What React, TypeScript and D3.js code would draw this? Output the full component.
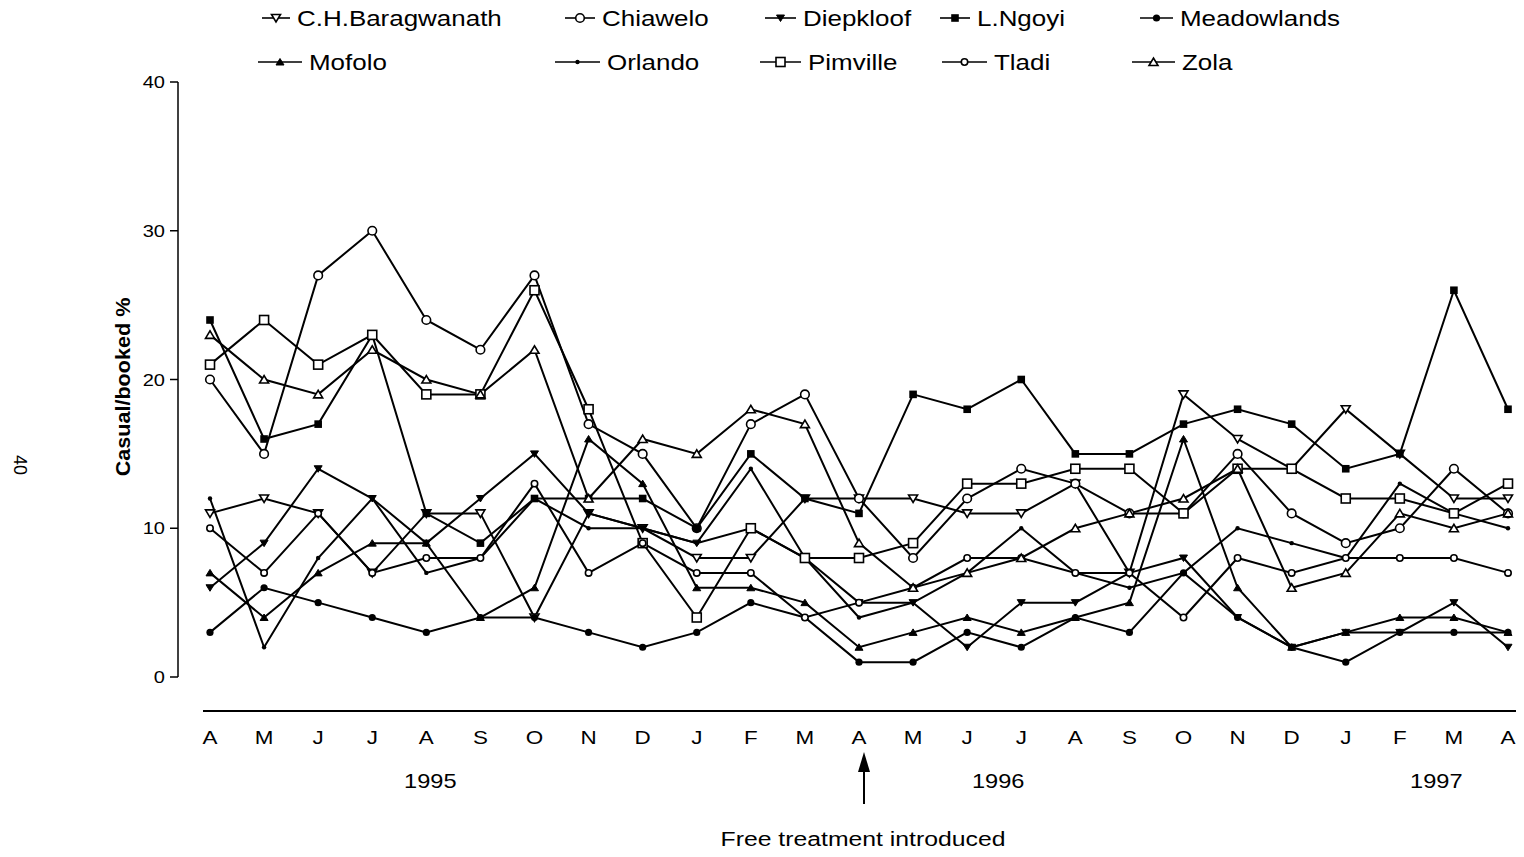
import React from "react";
import * as d3 from "d3";

// month ticks, April 1995 .. April 1997
const months = ["A", "M", "J", "J", "A", "S", "O", "N", "D", "J", "F", "M", "A", "M", "J", "J", "A", "S", "O", "N", "D", "J", "F", "M", "A"];
const yTicks = [0, 10, 20, 30, 40];
const years = [
  { label: "1995", at: 4 },
  { label: "1996", at: 14.5 },
  { label: "1997", at: 22.6 },
];

// casual / booked % per clinic
const baragwanath = [11, 12, 11, 7, 11, 11, 4, 11, 10, 8, 8, 12, 12, 12, 11, 11, 13, 7, 19, 16, 14, 18, 15, 12, 12];
const chiawelo = [20, 15, 27, 30, 24, 22, 27, 17, 15, 10, 17, 19, 12, 8, 12, 14, 13, 11, 11, 15, 11, 9, 10, 14, 11];
const diepkloof = [6, 9, 14, 12, 9, 12, 15, 11, 10, 9, 10, 8, 5, 5, 2, 5, 5, 7, 8, 4, 2, 3, 3, 5, 2];
const ngoyi = [24, 16, 17, 23, 11, 9, 12, 12, 12, 10, 15, 12, 11, 19, 18, 20, 15, 15, 17, 18, 17, 14, 15, 26, 18];
const meadowlands = [3, 6, 5, 4, 3, 4, 4, 3, 2, 3, 5, 4, 1, 1, 3, 2, 4, 3, 7, 4, 2, 1, 3, 3, 3];
const mofolo = [7, 4, 7, 9, 9, 4, 6, 16, 13, 6, 6, 5, 2, 3, 4, 3, 4, 5, 16, 6, 2, 3, 4, 4, 3];
const orlando = [12, 2, 8, 12, 7, 8, 12, 10, 10, 9, 14, 8, 4, 5, 7, 10, 7, 6, 7, 10, 9, 8, 13, 11, 10];
const pimville = [21, 24, 21, 23, 19, 19, 26, 18, 9, 4, 10, 8, 8, 9, 13, 13, 14, 14, 11, 14, 14, 12, 12, 11, 13];
const tladi = [10, 7, 11, 7, 8, 8, 13, 7, 9, 7, 7, 4, 5, 6, 8, 8, 7, 7, 4, 8, 7, 8, 8, 8, 7];
const zola = [23, 20, 19, 22, 20, 19, 22, 12, 16, 15, 18, 17, 9, 6, 7, 8, 10, 11, 12, 14, 6, 7, 11, 10, 11];

const series = [
  { name: "C.H.Baragwanath", values: baragwanath, marker: "triDownOpen" },
  { name: "Chiawelo", values: chiawelo, marker: "circleOpen" },
  { name: "Diepkloof", values: diepkloof, marker: "triDownFilled" },
  { name: "L.Ngoyi", values: ngoyi, marker: "squareFilled" },
  { name: "Meadowlands", values: meadowlands, marker: "circleFilled" },
  { name: "Mofolo", values: mofolo, marker: "triUpFilled" },
  { name: "Orlando", values: orlando, marker: "dot" },
  { name: "Pimville", values: pimville, marker: "squareOpen" },
  { name: "Tladi", values: tladi, marker: "circleSmall" },
  { name: "Zola", values: zola, marker: "triUpOpen" },
];

// legend placement (two rows of five)
const legendPos = [
  [262, 297, 18], [565, 602, 18], [765, 803, 18], [940, 977, 18], [1140, 1180, 18],
  [258, 309, 62], [555, 607, 62], [760, 808, 62], [942, 994, 62], [1132, 1182, 62],
];

// the scan is stretched sideways a bit
const SX = 1.18;

const SText = ({ x, y, size, anchor = "start", weight, children }: any) => (
  <g transform={`translate(${x},${y}) scale(${SX},1)`}>
    <text fontSize={size} textAnchor={anchor} fontWeight={weight}>{children}</text>
  </g>
);

const Marker = ({ type, x, y }: { type: string; x: number; y: number }) => {
  const sw = 1.6;
  switch (type) {
    case "triDownOpen":
      return <path d={`M${x - 4.5},${y - 3.5}L${x + 4.5},${y - 3.5}L${x},${y + 4}Z`} fill="white" stroke="black" strokeWidth={sw} />;
    case "triDownFilled":
      return <path d={`M${x - 4},${y - 3}L${x + 4},${y - 3}L${x},${y + 3.5}Z`} fill="black" stroke="black" strokeWidth={1} />;
    case "triUpOpen":
      return <path d={`M${x - 4.5},${y + 3.5}L${x + 4.5},${y + 3.5}L${x},${y - 4}Z`} fill="white" stroke="black" strokeWidth={sw} />;
    case "triUpFilled":
      return <path d={`M${x - 4},${y + 3}L${x + 4},${y + 3}L${x},${y - 3.5}Z`} fill="black" stroke="black" strokeWidth={1} />;
    case "circleOpen":
      return <circle cx={x} cy={y} r={4.3} fill="white" stroke="black" strokeWidth={sw} />;
    case "circleSmall":
      return <circle cx={x} cy={y} r={3.2} fill="white" stroke="black" strokeWidth={sw} />;
    case "circleFilled":
      return <circle cx={x} cy={y} r={3.6} fill="black" />;
    case "squareFilled":
      return <rect x={x - 3.8} y={y - 3.8} width={7.6} height={7.6} fill="black" />;
    case "squareOpen":
      return <rect x={x - 4.5} y={y - 4.5} width={9} height={9} fill="white" stroke="black" strokeWidth={sw} />;
    default:
      return <circle cx={x} cy={y} r={2.2} fill="black" />;
  }
};

export default function App() {
  const x = d3.scaleLinear().domain([0, months.length - 1]).range([210, 1508]);
  const y = d3.scaleLinear().domain([0, 40]).range([677, 82]);
  const line = d3
    .line<number>()
    .x((_, i) => x(i))
    .y((d) => y(d));
  const font = "Arial, 'Liberation Sans', sans-serif";

  return (
    <svg
      width={1524}
      height={857}
      style={{ position: "absolute", left: 0, top: 0, background: "white" }}
      fontFamily={font}
    >
      <rect width={1524} height={857} fill="white" />

      {/* page number */}
      <text x={14} y={465} fontSize={18} transform="rotate(90 14 465)" textAnchor="middle">40</text>

      {/* legend */}
      {series.map((s, i) => {
        const [lx, tx, ly] = legendPos[i];
        const mid = (lx + tx - 7) / 2;
        return (
          <g key={s.name}>
            <line x1={lx} x2={tx - 7} y1={ly} y2={ly} stroke="black" strokeWidth={1.6} />
            <Marker type={s.marker} x={mid} y={ly} />
            <SText x={tx} y={ly + 8} size={22}>{s.name}</SText>
          </g>
        );
      })}

      {/* y axis */}
      <line x1={178} x2={178} y1={y(40)} y2={y(0)} stroke="black" strokeWidth={1.5} />
      {yTicks.map((t) => (
        <g key={t}>
          <line x1={170} x2={178} y1={y(t)} y2={y(t)} stroke="black" strokeWidth={1.5} />
          <SText x={165} y={y(t) + 6} size={17} anchor="end">{t}</SText>
        </g>
      ))}
      <g transform="translate(130,387) rotate(-90) scale(1.08,1)">
        <text fontSize={20} fontWeight="bold" textAnchor="middle">Casual/booked %</text>
      </g>

      {/* x axis */}
      <line x1={203} x2={1516} y1={711} y2={711} stroke="black" strokeWidth={2} />
      {months.map((m, i) => (
        <SText key={i} x={x(i)} y={744} size={19} anchor="middle">{m}</SText>
      ))}
      {years.map((yr) => (
        <SText key={yr.label} x={x(yr.at) + 4} y={788} size={20} anchor="middle">{yr.label}</SText>
      ))}

      {/* free treatment arrow */}
      <line x1={x(12) + 5} x2={x(12) + 5} y1={804} y2={765} stroke="black" strokeWidth={2} />
      <path d={`M${x(12) + 5},752L${x(12) - 1},772L${x(12) + 11},772Z`} fill="black" />
      <SText x={x(12) + 4} y={846} size={21} anchor="middle">Free treatment introduced</SText>

      {/* series */}
      {series.map((s) => (
        <path key={s.name} d={line(s.values) || ""} fill="none" stroke="black" strokeWidth={2} />
      ))}
      {series.map((s) =>
        s.values.map((v, i) => <Marker key={s.name + i} type={s.marker} x={x(i)} y={y(v)} />)
      )}
    </svg>
  );
}
